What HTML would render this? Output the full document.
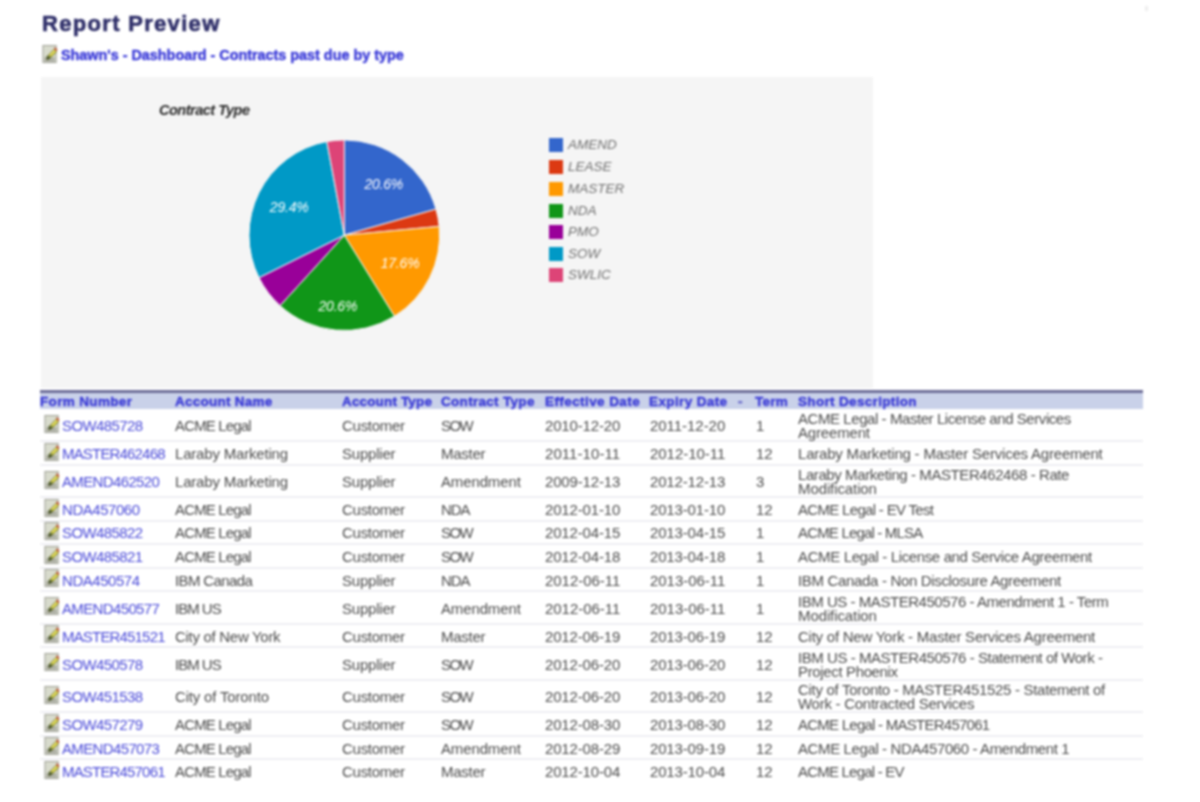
<!DOCTYPE html><html><head><meta charset="utf-8"><style>
html,body{margin:0;padding:0;background:#fff;width:1200px;height:802px;overflow:hidden}
body{font-family:"Liberation Sans",sans-serif;position:relative}
#w{position:absolute;left:0;top:0;width:1200px;height:802px;filter:blur(0.8px)}
.a{position:absolute;white-space:nowrap}
.t{font-size:15px;color:#4c4c4c;line-height:14px}
.lk{color:#4a4ad8}
.h{font-size:13.5px;font-weight:bold;color:#3b3bd6;line-height:16px;-webkit-text-stroke:0.4px #3b3bd6}
.ic{position:absolute}
.lg{font-size:13.5px;font-style:italic;color:#707070;line-height:16px}
.sq{position:absolute;width:14px;height:14px}
.pl{font-size:14px;font-style:italic;color:#fff;line-height:14px;letter-spacing:-0.2px}
</style></head><body><div id="w">
<div class="a" style="left:42px;top:10px;font-size:22px;font-weight:bold;color:#30306a;line-height:28px;-webkit-text-stroke:0.6px #30306a;letter-spacing:1.315px">Report Preview</div>
<svg class="ic" style="left:42px;top:45px" width="16" height="18" viewBox="0 0 16 19"><rect x='0.5' y='0.5' width='14' height='18' fill='#d8dbcd' stroke='#9a9c92'/><rect x='2' y='13' width='11' height='4.5' fill='#acaea4'/><path d='M4.5 15.5 L5.5 11.5 L12.5 4.5 L15 7 L8 14 Z' fill='#c8c830' stroke='#6a6a30' stroke-width='0.8'/><path d='M6 12 L13 5 L14 6 L7 13 Z' fill='#ece470'/><path d='M12 4 L13.5 2.5 L16 5 L14.5 6.5 Z' fill='#c0583a'/><path d='M4.5 15.5 L5.5 11.5 L8 14 Z' fill='#2a3a1a'/><path d='M3.5 12.5 L8 10.5 L9 13 L6 15.5 Z' fill='#4a5a30' opacity='0.6'/></svg>
<div class="a" style="left:61px;top:47px;font-size:14.4px;font-weight:bold;color:#3a3ad8;line-height:16px;-webkit-text-stroke:0.4px #3a3ad8;letter-spacing:-0.012px">Shawn's - Dashboard - Contracts past due by type</div>
<div class="a" style="left:41px;top:77px;width:832px;height:311px;background:#f5f5f5"></div>
<div class="a" style="left:159px;top:102px;font-size:14.5px;font-weight:bold;font-style:italic;color:#2a2a2a;line-height:16px;letter-spacing:-0.5px">Contract Type</div>
<svg class="a" style="left:0;top:0" width="1200" height="400"><path d="M344.3,235.2L344.30,139.90A95.3,95.3 0 0 1 435.96,209.12Z" fill="#3366cc" stroke="#f5f5f5" stroke-width="1"/><path d="M344.3,235.2L435.96,209.12A95.3,95.3 0 0 1 439.19,226.41Z" fill="#dc3912" stroke="#f5f5f5" stroke-width="1"/><path d="M344.3,235.2L439.19,226.41A95.3,95.3 0 0 1 394.47,316.23Z" fill="#ff9900" stroke="#f5f5f5" stroke-width="1"/><path d="M344.3,235.2L394.47,316.23A95.3,95.3 0 0 1 280.10,305.63Z" fill="#109618" stroke="#f5f5f5" stroke-width="1"/><path d="M344.3,235.2L280.10,305.63A95.3,95.3 0 0 1 258.99,277.68Z" fill="#990099" stroke="#f5f5f5" stroke-width="1"/><path d="M344.3,235.2L258.99,277.68A95.3,95.3 0 0 1 326.79,141.52Z" fill="#0099c6" stroke="#f5f5f5" stroke-width="1"/><path d="M344.3,235.2L326.79,141.52A95.3,95.3 0 0 1 344.30,139.90Z" fill="#dd4477" stroke="#f5f5f5" stroke-width="1"/></svg>
<div class="a pl" style="left:364.4px;top:176.7px;width:38px;text-align:center">20.6%</div>
<div class="a pl" style="left:269.8px;top:200.3px;width:38px;text-align:center">29.4%</div>
<div class="a pl" style="left:380.7px;top:256.0px;width:38px;text-align:center">17.6%</div>
<div class="a pl" style="left:318.5px;top:298.7px;width:38px;text-align:center">20.6%</div>
<div class="sq" style="left:549px;top:138.1px;background:#3366cc"></div>
<div class="a lg" style="left:568px;top:137.1px">AMEND</div>
<div class="sq" style="left:549px;top:160.0px;background:#dc3912"></div>
<div class="a lg" style="left:568px;top:159.0px">LEASE</div>
<div class="sq" style="left:549px;top:181.6px;background:#ff9900"></div>
<div class="a lg" style="left:568px;top:180.6px">MASTER</div>
<div class="sq" style="left:549px;top:203.8px;background:#109618"></div>
<div class="a lg" style="left:568px;top:202.8px">NDA</div>
<div class="sq" style="left:549px;top:225.0px;background:#990099"></div>
<div class="a lg" style="left:568px;top:224.0px">PMO</div>
<div class="sq" style="left:549px;top:246.8px;background:#0099c6"></div>
<div class="a lg" style="left:568px;top:245.8px">SOW</div>
<div class="sq" style="left:549px;top:268.4px;background:#dd4477"></div>
<div class="a lg" style="left:568px;top:267.4px">SWLIC</div>
<div class="a" style="left:40px;top:390px;width:1103px;height:3px;background:#6e6e98"></div>
<div class="a" style="left:40px;top:393px;width:1103px;height:15.5px;background:#c9d1e9"></div>
<div class="a h" style="left:40px;top:394px;letter-spacing:0.344px">Form Number</div>
<div class="a h" style="left:175px;top:394px;letter-spacing:0.251px">Account Name</div>
<div class="a h" style="left:342px;top:394px;letter-spacing:0.151px">Account Type</div>
<div class="a h" style="left:441px;top:394px;letter-spacing:0.302px">Contract Type</div>
<div class="a h" style="left:545px;top:394px;letter-spacing:0.414px">Effective Date</div>
<div class="a h" style="left:649px;top:394px;letter-spacing:0.382px">Expiry Date</div>
<div class="a h" style="left:755px;top:394px;letter-spacing:0.285px">Term</div>
<div class="a h" style="left:798px;top:394px;letter-spacing:0.330px">Short Description</div>
<div class="a h" style="left:738px;top:394px;color:#8a8ab0">-</div>
<div class="a" style="left:40px;top:439.9px;width:1103px;height:2px;background:#efeff3"></div>
<svg class="ic" style="left:44px;top:415px" width="16" height="18" viewBox="0 0 16 19"><rect x='0.5' y='0.5' width='14' height='18' fill='#d8dbcd' stroke='#9a9c92'/><rect x='2' y='13' width='11' height='4.5' fill='#acaea4'/><path d='M4.5 15.5 L5.5 11.5 L12.5 4.5 L15 7 L8 14 Z' fill='#c8c830' stroke='#6a6a30' stroke-width='0.8'/><path d='M6 12 L13 5 L14 6 L7 13 Z' fill='#ece470'/><path d='M12 4 L13.5 2.5 L16 5 L14.5 6.5 Z' fill='#c0583a'/><path d='M4.5 15.5 L5.5 11.5 L8 14 Z' fill='#2a3a1a'/><path d='M3.5 12.5 L8 10.5 L9 13 L6 15.5 Z' fill='#4a5a30' opacity='0.6'/></svg>
<div class="a t lk" style="left:62px;top:418.9px;letter-spacing:-0.590px">SOW485728</div>
<div class="a t" style="left:175px;top:418.9px;letter-spacing:-0.844px">ACME Legal</div>
<div class="a t" style="left:342px;top:418.9px;letter-spacing:-0.273px">Customer</div>
<div class="a t" style="left:441px;top:418.9px;letter-spacing:-1.547px">SOW</div>
<div class="a t" style="left:545px;top:418.9px;letter-spacing:-0.155px">2010-12-20</div>
<div class="a t" style="left:650px;top:418.9px;letter-spacing:-0.044px">2011-12-20</div>
<div class="a t" style="left:756px;top:418.9px;letter-spacing:-0.109px">1</div>
<div class="a t" style="left:798px;top:411.9px;letter-spacing:-0.432px">ACME Legal - Master License and Services</div>
<div class="a t" style="left:798px;top:425.9px;letter-spacing:-0.168px">Agreement</div>
<div class="a" style="left:40px;top:463.5px;width:1103px;height:2px;background:#efeff3"></div>
<svg class="ic" style="left:44px;top:443px" width="16" height="18" viewBox="0 0 16 19"><rect x='0.5' y='0.5' width='14' height='18' fill='#d8dbcd' stroke='#9a9c92'/><rect x='2' y='13' width='11' height='4.5' fill='#acaea4'/><path d='M4.5 15.5 L5.5 11.5 L12.5 4.5 L15 7 L8 14 Z' fill='#c8c830' stroke='#6a6a30' stroke-width='0.8'/><path d='M6 12 L13 5 L14 6 L7 13 Z' fill='#ece470'/><path d='M12 4 L13.5 2.5 L16 5 L14.5 6.5 Z' fill='#c0583a'/><path d='M4.5 15.5 L5.5 11.5 L8 14 Z' fill='#2a3a1a'/><path d='M3.5 12.5 L8 10.5 L9 13 L6 15.5 Z' fill='#4a5a30' opacity='0.6'/></svg>
<div class="a t lk" style="left:62px;top:446.9px;letter-spacing:-0.823px">MASTER462468</div>
<div class="a t" style="left:175px;top:446.9px;letter-spacing:-0.191px">Laraby Marketing</div>
<div class="a t" style="left:342px;top:446.9px;letter-spacing:-0.217px">Supplier</div>
<div class="a t" style="left:441px;top:446.9px;letter-spacing:-0.276px">Master</div>
<div class="a t" style="left:545px;top:446.9px;letter-spacing:0.067px">2011-10-11</div>
<div class="a t" style="left:650px;top:446.9px;letter-spacing:-0.044px">2012-10-11</div>
<div class="a t" style="left:756px;top:446.9px;letter-spacing:-0.109px">12</div>
<div class="a t" style="left:798px;top:446.9px;letter-spacing:-0.202px">Laraby Marketing - Master Services Agreement</div>
<div class="a" style="left:40px;top:495.9px;width:1103px;height:2px;background:#efeff3"></div>
<svg class="ic" style="left:44px;top:471px" width="16" height="18" viewBox="0 0 16 19"><rect x='0.5' y='0.5' width='14' height='18' fill='#d8dbcd' stroke='#9a9c92'/><rect x='2' y='13' width='11' height='4.5' fill='#acaea4'/><path d='M4.5 15.5 L5.5 11.5 L12.5 4.5 L15 7 L8 14 Z' fill='#c8c830' stroke='#6a6a30' stroke-width='0.8'/><path d='M6 12 L13 5 L14 6 L7 13 Z' fill='#ece470'/><path d='M12 4 L13.5 2.5 L16 5 L14.5 6.5 Z' fill='#c0583a'/><path d='M4.5 15.5 L5.5 11.5 L8 14 Z' fill='#2a3a1a'/><path d='M3.5 12.5 L8 10.5 L9 13 L6 15.5 Z' fill='#4a5a30' opacity='0.6'/></svg>
<div class="a t lk" style="left:62px;top:474.9px;letter-spacing:-0.638px">AMEND462520</div>
<div class="a t" style="left:175px;top:474.9px;letter-spacing:-0.191px">Laraby Marketing</div>
<div class="a t" style="left:342px;top:474.9px;letter-spacing:-0.217px">Supplier</div>
<div class="a t" style="left:441px;top:474.9px;letter-spacing:-0.134px">Amendment</div>
<div class="a t" style="left:545px;top:474.9px;letter-spacing:-0.155px">2009-12-13</div>
<div class="a t" style="left:650px;top:474.9px;letter-spacing:-0.155px">2012-12-13</div>
<div class="a t" style="left:756px;top:474.9px;letter-spacing:-0.109px">3</div>
<div class="a t" style="left:798px;top:467.9px;letter-spacing:-0.416px">Laraby Marketing - MASTER462468 - Rate</div>
<div class="a t" style="left:798px;top:481.9px;letter-spacing:-0.099px">Modification</div>
<div class="a" style="left:40px;top:519.5px;width:1103px;height:2px;background:#efeff3"></div>
<svg class="ic" style="left:44px;top:499px" width="16" height="18" viewBox="0 0 16 19"><rect x='0.5' y='0.5' width='14' height='18' fill='#d8dbcd' stroke='#9a9c92'/><rect x='2' y='13' width='11' height='4.5' fill='#acaea4'/><path d='M4.5 15.5 L5.5 11.5 L12.5 4.5 L15 7 L8 14 Z' fill='#c8c830' stroke='#6a6a30' stroke-width='0.8'/><path d='M6 12 L13 5 L14 6 L7 13 Z' fill='#ece470'/><path d='M12 4 L13.5 2.5 L16 5 L14.5 6.5 Z' fill='#c0583a'/><path d='M4.5 15.5 L5.5 11.5 L8 14 Z' fill='#2a3a1a'/><path d='M3.5 12.5 L8 10.5 L9 13 L6 15.5 Z' fill='#4a5a30' opacity='0.6'/></svg>
<div class="a t lk" style="left:62px;top:502.9px;letter-spacing:-0.453px">NDA457060</div>
<div class="a t" style="left:175px;top:502.9px;letter-spacing:-0.844px">ACME Legal</div>
<div class="a t" style="left:342px;top:502.9px;letter-spacing:-0.273px">Customer</div>
<div class="a t" style="left:441px;top:502.9px;letter-spacing:-1.135px">NDA</div>
<div class="a t" style="left:545px;top:502.9px;letter-spacing:-0.155px">2012-01-10</div>
<div class="a t" style="left:650px;top:502.9px;letter-spacing:-0.155px">2013-01-10</div>
<div class="a t" style="left:756px;top:502.9px;letter-spacing:-0.109px">12</div>
<div class="a t" style="left:798px;top:502.9px;letter-spacing:-0.683px">ACME Legal - EV Test</div>
<div class="a" style="left:40px;top:543.0px;width:1103px;height:2px;background:#efeff3"></div>
<svg class="ic" style="left:44px;top:522px" width="16" height="18" viewBox="0 0 16 19"><rect x='0.5' y='0.5' width='14' height='18' fill='#d8dbcd' stroke='#9a9c92'/><rect x='2' y='13' width='11' height='4.5' fill='#acaea4'/><path d='M4.5 15.5 L5.5 11.5 L12.5 4.5 L15 7 L8 14 Z' fill='#c8c830' stroke='#6a6a30' stroke-width='0.8'/><path d='M6 12 L13 5 L14 6 L7 13 Z' fill='#ece470'/><path d='M12 4 L13.5 2.5 L16 5 L14.5 6.5 Z' fill='#c0583a'/><path d='M4.5 15.5 L5.5 11.5 L8 14 Z' fill='#2a3a1a'/><path d='M3.5 12.5 L8 10.5 L9 13 L6 15.5 Z' fill='#4a5a30' opacity='0.6'/></svg>
<div class="a t lk" style="left:62px;top:526.4px;letter-spacing:-0.590px">SOW485822</div>
<div class="a t" style="left:175px;top:526.4px;letter-spacing:-0.844px">ACME Legal</div>
<div class="a t" style="left:342px;top:526.4px;letter-spacing:-0.273px">Customer</div>
<div class="a t" style="left:441px;top:526.4px;letter-spacing:-1.547px">SOW</div>
<div class="a t" style="left:545px;top:526.4px;letter-spacing:-0.155px">2012-04-15</div>
<div class="a t" style="left:650px;top:526.4px;letter-spacing:-0.155px">2013-04-15</div>
<div class="a t" style="left:756px;top:526.4px;letter-spacing:-0.109px">1</div>
<div class="a t" style="left:798px;top:526.4px;letter-spacing:-0.825px">ACME Legal - MLSA</div>
<div class="a" style="left:40px;top:566.6px;width:1103px;height:2px;background:#efeff3"></div>
<svg class="ic" style="left:44px;top:546px" width="16" height="18" viewBox="0 0 16 19"><rect x='0.5' y='0.5' width='14' height='18' fill='#d8dbcd' stroke='#9a9c92'/><rect x='2' y='13' width='11' height='4.5' fill='#acaea4'/><path d='M4.5 15.5 L5.5 11.5 L12.5 4.5 L15 7 L8 14 Z' fill='#c8c830' stroke='#6a6a30' stroke-width='0.8'/><path d='M6 12 L13 5 L14 6 L7 13 Z' fill='#ece470'/><path d='M12 4 L13.5 2.5 L16 5 L14.5 6.5 Z' fill='#c0583a'/><path d='M4.5 15.5 L5.5 11.5 L8 14 Z' fill='#2a3a1a'/><path d='M3.5 12.5 L8 10.5 L9 13 L6 15.5 Z' fill='#4a5a30' opacity='0.6'/></svg>
<div class="a t lk" style="left:62px;top:550.0px;letter-spacing:-0.590px">SOW485821</div>
<div class="a t" style="left:175px;top:550.0px;letter-spacing:-0.844px">ACME Legal</div>
<div class="a t" style="left:342px;top:550.0px;letter-spacing:-0.273px">Customer</div>
<div class="a t" style="left:441px;top:550.0px;letter-spacing:-1.547px">SOW</div>
<div class="a t" style="left:545px;top:550.0px;letter-spacing:-0.155px">2012-04-18</div>
<div class="a t" style="left:650px;top:550.0px;letter-spacing:-0.155px">2013-04-18</div>
<div class="a t" style="left:756px;top:550.0px;letter-spacing:-0.109px">1</div>
<div class="a t" style="left:798px;top:550.0px;letter-spacing:-0.370px">ACME Legal - License and Service Agreement</div>
<div class="a" style="left:40px;top:590.2px;width:1103px;height:2px;background:#efeff3"></div>
<svg class="ic" style="left:44px;top:569px" width="16" height="18" viewBox="0 0 16 19"><rect x='0.5' y='0.5' width='14' height='18' fill='#d8dbcd' stroke='#9a9c92'/><rect x='2' y='13' width='11' height='4.5' fill='#acaea4'/><path d='M4.5 15.5 L5.5 11.5 L12.5 4.5 L15 7 L8 14 Z' fill='#c8c830' stroke='#6a6a30' stroke-width='0.8'/><path d='M6 12 L13 5 L14 6 L7 13 Z' fill='#ece470'/><path d='M12 4 L13.5 2.5 L16 5 L14.5 6.5 Z' fill='#c0583a'/><path d='M4.5 15.5 L5.5 11.5 L8 14 Z' fill='#2a3a1a'/><path d='M3.5 12.5 L8 10.5 L9 13 L6 15.5 Z' fill='#4a5a30' opacity='0.6'/></svg>
<div class="a t lk" style="left:62px;top:573.6px;letter-spacing:-0.453px">NDA450574</div>
<div class="a t" style="left:175px;top:573.6px;letter-spacing:-0.619px">IBM Canada</div>
<div class="a t" style="left:342px;top:573.6px;letter-spacing:-0.217px">Supplier</div>
<div class="a t" style="left:441px;top:573.6px;letter-spacing:-1.135px">NDA</div>
<div class="a t" style="left:545px;top:573.6px;letter-spacing:-0.044px">2012-06-11</div>
<div class="a t" style="left:650px;top:573.6px;letter-spacing:-0.044px">2013-06-11</div>
<div class="a t" style="left:756px;top:573.6px;letter-spacing:-0.109px">1</div>
<div class="a t" style="left:798px;top:573.6px;letter-spacing:-0.333px">IBM Canada - Non Disclosure Agreement</div>
<div class="a" style="left:40px;top:622.6px;width:1103px;height:2px;background:#efeff3"></div>
<svg class="ic" style="left:44px;top:597px" width="16" height="18" viewBox="0 0 16 19"><rect x='0.5' y='0.5' width='14' height='18' fill='#d8dbcd' stroke='#9a9c92'/><rect x='2' y='13' width='11' height='4.5' fill='#acaea4'/><path d='M4.5 15.5 L5.5 11.5 L12.5 4.5 L15 7 L8 14 Z' fill='#c8c830' stroke='#6a6a30' stroke-width='0.8'/><path d='M6 12 L13 5 L14 6 L7 13 Z' fill='#ece470'/><path d='M12 4 L13.5 2.5 L16 5 L14.5 6.5 Z' fill='#c0583a'/><path d='M4.5 15.5 L5.5 11.5 L8 14 Z' fill='#2a3a1a'/><path d='M3.5 12.5 L8 10.5 L9 13 L6 15.5 Z' fill='#4a5a30' opacity='0.6'/></svg>
<div class="a t lk" style="left:62px;top:601.6px;letter-spacing:-0.638px">AMEND450577</div>
<div class="a t" style="left:175px;top:601.6px;letter-spacing:-1.005px">IBM US</div>
<div class="a t" style="left:342px;top:601.6px;letter-spacing:-0.217px">Supplier</div>
<div class="a t" style="left:441px;top:601.6px;letter-spacing:-0.134px">Amendment</div>
<div class="a t" style="left:545px;top:601.6px;letter-spacing:-0.044px">2012-06-11</div>
<div class="a t" style="left:650px;top:601.6px;letter-spacing:-0.044px">2013-06-11</div>
<div class="a t" style="left:756px;top:601.6px;letter-spacing:-0.109px">1</div>
<div class="a t" style="left:798px;top:594.6px;letter-spacing:-0.464px">IBM US - MASTER450576 - Amendment 1 - Term</div>
<div class="a t" style="left:798px;top:608.6px;letter-spacing:-0.099px">Modification</div>
<div class="a" style="left:40px;top:646.2px;width:1103px;height:2px;background:#efeff3"></div>
<svg class="ic" style="left:44px;top:625px" width="16" height="18" viewBox="0 0 16 19"><rect x='0.5' y='0.5' width='14' height='18' fill='#d8dbcd' stroke='#9a9c92'/><rect x='2' y='13' width='11' height='4.5' fill='#acaea4'/><path d='M4.5 15.5 L5.5 11.5 L12.5 4.5 L15 7 L8 14 Z' fill='#c8c830' stroke='#6a6a30' stroke-width='0.8'/><path d='M6 12 L13 5 L14 6 L7 13 Z' fill='#ece470'/><path d='M12 4 L13.5 2.5 L16 5 L14.5 6.5 Z' fill='#c0583a'/><path d='M4.5 15.5 L5.5 11.5 L8 14 Z' fill='#2a3a1a'/><path d='M3.5 12.5 L8 10.5 L9 13 L6 15.5 Z' fill='#4a5a30' opacity='0.6'/></svg>
<div class="a t lk" style="left:62px;top:629.6px;letter-spacing:-0.823px">MASTER451521</div>
<div class="a t" style="left:175px;top:629.6px;letter-spacing:-0.297px">City of New York</div>
<div class="a t" style="left:342px;top:629.6px;letter-spacing:-0.273px">Customer</div>
<div class="a t" style="left:441px;top:629.6px;letter-spacing:-0.276px">Master</div>
<div class="a t" style="left:545px;top:629.6px;letter-spacing:-0.155px">2012-06-19</div>
<div class="a t" style="left:650px;top:629.6px;letter-spacing:-0.155px">2013-06-19</div>
<div class="a t" style="left:756px;top:629.6px;letter-spacing:-0.109px">12</div>
<div class="a t" style="left:798px;top:629.6px;letter-spacing:-0.241px">City of New York - Master Services Agreement</div>
<div class="a" style="left:40px;top:678.6px;width:1103px;height:2px;background:#efeff3"></div>
<svg class="ic" style="left:44px;top:653px" width="16" height="18" viewBox="0 0 16 19"><rect x='0.5' y='0.5' width='14' height='18' fill='#d8dbcd' stroke='#9a9c92'/><rect x='2' y='13' width='11' height='4.5' fill='#acaea4'/><path d='M4.5 15.5 L5.5 11.5 L12.5 4.5 L15 7 L8 14 Z' fill='#c8c830' stroke='#6a6a30' stroke-width='0.8'/><path d='M6 12 L13 5 L14 6 L7 13 Z' fill='#ece470'/><path d='M12 4 L13.5 2.5 L16 5 L14.5 6.5 Z' fill='#c0583a'/><path d='M4.5 15.5 L5.5 11.5 L8 14 Z' fill='#2a3a1a'/><path d='M3.5 12.5 L8 10.5 L9 13 L6 15.5 Z' fill='#4a5a30' opacity='0.6'/></svg>
<div class="a t lk" style="left:62px;top:657.6px;letter-spacing:-0.590px">SOW450578</div>
<div class="a t" style="left:175px;top:657.6px;letter-spacing:-1.005px">IBM US</div>
<div class="a t" style="left:342px;top:657.6px;letter-spacing:-0.217px">Supplier</div>
<div class="a t" style="left:441px;top:657.6px;letter-spacing:-1.547px">SOW</div>
<div class="a t" style="left:545px;top:657.6px;letter-spacing:-0.155px">2012-06-20</div>
<div class="a t" style="left:650px;top:657.6px;letter-spacing:-0.155px">2013-06-20</div>
<div class="a t" style="left:756px;top:657.6px;letter-spacing:-0.109px">12</div>
<div class="a t" style="left:798px;top:650.6px;letter-spacing:-0.455px">IBM US - MASTER450576 - Statement of Work -</div>
<div class="a t" style="left:798px;top:664.6px;letter-spacing:-0.357px">Project Phoenix</div>
<div class="a" style="left:40px;top:711.0px;width:1103px;height:2px;background:#efeff3"></div>
<svg class="ic" style="left:44px;top:686px" width="16" height="18" viewBox="0 0 16 19"><rect x='0.5' y='0.5' width='14' height='18' fill='#d8dbcd' stroke='#9a9c92'/><rect x='2' y='13' width='11' height='4.5' fill='#acaea4'/><path d='M4.5 15.5 L5.5 11.5 L12.5 4.5 L15 7 L8 14 Z' fill='#c8c830' stroke='#6a6a30' stroke-width='0.8'/><path d='M6 12 L13 5 L14 6 L7 13 Z' fill='#ece470'/><path d='M12 4 L13.5 2.5 L16 5 L14.5 6.5 Z' fill='#c0583a'/><path d='M4.5 15.5 L5.5 11.5 L8 14 Z' fill='#2a3a1a'/><path d='M3.5 12.5 L8 10.5 L9 13 L6 15.5 Z' fill='#4a5a30' opacity='0.6'/></svg>
<div class="a t lk" style="left:62px;top:690.0px;letter-spacing:-0.590px">SOW451538</div>
<div class="a t" style="left:175px;top:690.0px;letter-spacing:-0.176px">City of Toronto</div>
<div class="a t" style="left:342px;top:690.0px;letter-spacing:-0.273px">Customer</div>
<div class="a t" style="left:441px;top:690.0px;letter-spacing:-1.547px">SOW</div>
<div class="a t" style="left:545px;top:690.0px;letter-spacing:-0.155px">2012-06-20</div>
<div class="a t" style="left:650px;top:690.0px;letter-spacing:-0.155px">2013-06-20</div>
<div class="a t" style="left:756px;top:690.0px;letter-spacing:-0.109px">12</div>
<div class="a t" style="left:798px;top:683.0px;letter-spacing:-0.306px">City of Toronto - MASTER451525 - Statement of</div>
<div class="a t" style="left:798px;top:697.0px;letter-spacing:-0.268px">Work - Contracted Services</div>
<div class="a" style="left:40px;top:734.6px;width:1103px;height:2px;background:#efeff3"></div>
<svg class="ic" style="left:44px;top:714px" width="16" height="18" viewBox="0 0 16 19"><rect x='0.5' y='0.5' width='14' height='18' fill='#d8dbcd' stroke='#9a9c92'/><rect x='2' y='13' width='11' height='4.5' fill='#acaea4'/><path d='M4.5 15.5 L5.5 11.5 L12.5 4.5 L15 7 L8 14 Z' fill='#c8c830' stroke='#6a6a30' stroke-width='0.8'/><path d='M6 12 L13 5 L14 6 L7 13 Z' fill='#ece470'/><path d='M12 4 L13.5 2.5 L16 5 L14.5 6.5 Z' fill='#c0583a'/><path d='M4.5 15.5 L5.5 11.5 L8 14 Z' fill='#2a3a1a'/><path d='M3.5 12.5 L8 10.5 L9 13 L6 15.5 Z' fill='#4a5a30' opacity='0.6'/></svg>
<div class="a t lk" style="left:62px;top:718.0px;letter-spacing:-0.590px">SOW457279</div>
<div class="a t" style="left:175px;top:718.0px;letter-spacing:-0.844px">ACME Legal</div>
<div class="a t" style="left:342px;top:718.0px;letter-spacing:-0.273px">Customer</div>
<div class="a t" style="left:441px;top:718.0px;letter-spacing:-1.547px">SOW</div>
<div class="a t" style="left:545px;top:718.0px;letter-spacing:-0.155px">2012-08-30</div>
<div class="a t" style="left:650px;top:718.0px;letter-spacing:-0.155px">2013-08-30</div>
<div class="a t" style="left:756px;top:718.0px;letter-spacing:-0.109px">12</div>
<div class="a t" style="left:798px;top:718.0px;letter-spacing:-0.750px">ACME Legal - MASTER457061</div>
<div class="a" style="left:40px;top:758.1px;width:1103px;height:2px;background:#efeff3"></div>
<svg class="ic" style="left:44px;top:737px" width="16" height="18" viewBox="0 0 16 19"><rect x='0.5' y='0.5' width='14' height='18' fill='#d8dbcd' stroke='#9a9c92'/><rect x='2' y='13' width='11' height='4.5' fill='#acaea4'/><path d='M4.5 15.5 L5.5 11.5 L12.5 4.5 L15 7 L8 14 Z' fill='#c8c830' stroke='#6a6a30' stroke-width='0.8'/><path d='M6 12 L13 5 L14 6 L7 13 Z' fill='#ece470'/><path d='M12 4 L13.5 2.5 L16 5 L14.5 6.5 Z' fill='#c0583a'/><path d='M4.5 15.5 L5.5 11.5 L8 14 Z' fill='#2a3a1a'/><path d='M3.5 12.5 L8 10.5 L9 13 L6 15.5 Z' fill='#4a5a30' opacity='0.6'/></svg>
<div class="a t lk" style="left:62px;top:741.6px;letter-spacing:-0.638px">AMEND457073</div>
<div class="a t" style="left:175px;top:741.6px;letter-spacing:-0.844px">ACME Legal</div>
<div class="a t" style="left:342px;top:741.6px;letter-spacing:-0.273px">Customer</div>
<div class="a t" style="left:441px;top:741.6px;letter-spacing:-0.134px">Amendment</div>
<div class="a t" style="left:545px;top:741.6px;letter-spacing:-0.155px">2012-08-29</div>
<div class="a t" style="left:650px;top:741.6px;letter-spacing:-0.155px">2013-09-19</div>
<div class="a t" style="left:756px;top:741.6px;letter-spacing:-0.109px">12</div>
<div class="a t" style="left:798px;top:741.6px;letter-spacing:-0.387px">ACME Legal - NDA457060 - Amendment 1</div>
<svg class="ic" style="left:44px;top:761px" width="16" height="18" viewBox="0 0 16 19"><rect x='0.5' y='0.5' width='14' height='18' fill='#d8dbcd' stroke='#9a9c92'/><rect x='2' y='13' width='11' height='4.5' fill='#acaea4'/><path d='M4.5 15.5 L5.5 11.5 L12.5 4.5 L15 7 L8 14 Z' fill='#c8c830' stroke='#6a6a30' stroke-width='0.8'/><path d='M6 12 L13 5 L14 6 L7 13 Z' fill='#ece470'/><path d='M12 4 L13.5 2.5 L16 5 L14.5 6.5 Z' fill='#c0583a'/><path d='M4.5 15.5 L5.5 11.5 L8 14 Z' fill='#2a3a1a'/><path d='M3.5 12.5 L8 10.5 L9 13 L6 15.5 Z' fill='#4a5a30' opacity='0.6'/></svg>
<div class="a t lk" style="left:62px;top:765.1px;letter-spacing:-0.823px">MASTER457061</div>
<div class="a t" style="left:175px;top:765.1px;letter-spacing:-0.844px">ACME Legal</div>
<div class="a t" style="left:342px;top:765.1px;letter-spacing:-0.273px">Customer</div>
<div class="a t" style="left:441px;top:765.1px;letter-spacing:-0.276px">Master</div>
<div class="a t" style="left:545px;top:765.1px;letter-spacing:-0.155px">2012-10-04</div>
<div class="a t" style="left:650px;top:765.1px;letter-spacing:-0.155px">2013-10-04</div>
<div class="a t" style="left:756px;top:765.1px;letter-spacing:-0.109px">12</div>
<div class="a t" style="left:798px;top:765.1px;letter-spacing:-0.790px">ACME Legal - EV</div>
<div class="a" style="left:1145px;top:6px;width:3px;height:5px;background:#eeeeee"></div>
</div></body></html>
